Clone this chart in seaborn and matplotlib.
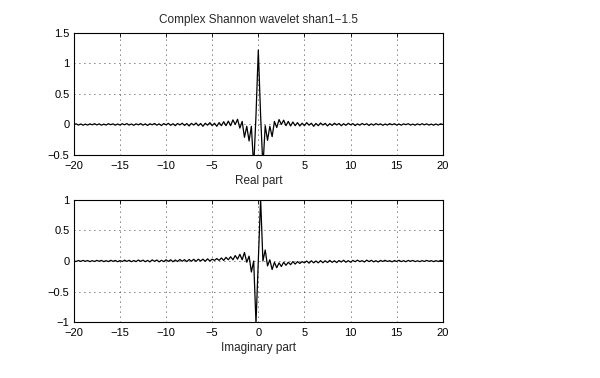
import numpy as np
import seaborn as sns
import matplotlib.pyplot as plt
from matplotlib.ticker import FuncFormatter


# sample grid, -20 .. 20 step 0.25
x = np.linspace(-20, 20, 161)

real_part = [
    0.00, 0.01, -0.01, 0.008, -0.012, 0.006, -0.01, 0.01, -0.006, 0.012,
    -0.008, 0.01, -0.012, 0.006, -0.01, 0.012, -0.004, 0.01, -0.012, 0.008,
    -0.01, 0.012, -0.006, 0.014, -0.01, 0.008, -0.014, 0.01, -0.006, 0.014,
    -0.012, 0.01, -0.016, 0.012, -0.006, 0.016, -0.012, 0.01, -0.018, 0.014,
    -0.006, 0.018, -0.014, 0.012, -0.02, 0.016, -0.008, 0.02, -0.016, 0.014,
    -0.024, 0.018, -0.01, 0.024, -0.02, 0.016, -0.03, 0.02, -0.012, 0.03,
    -0.02, 0.02, -0.03, 0.03, -0.02, 0.045, -0.02, 0.055, -0.02, 0.075,
    0.0, 0.085, -0.06, 0.05, -0.21, -0.03, -0.27, -0.03, -0.7, 0.15,
    1.22,
    0.15, -0.7, -0.02, -0.26, -0.03, -0.2, 0.05, -0.05, 0.08, 0.0,
    0.07, -0.02, 0.05, -0.025, 0.04, -0.02, 0.03, -0.025, 0.02, -0.02,
    0.03, -0.012, 0.02, -0.03, 0.016, -0.02, 0.024, -0.01, 0.018, -0.024,
    0.014, -0.016, 0.02, -0.008, 0.016, -0.02, 0.012, -0.014, 0.018, -0.006,
    0.014, -0.018, 0.01, -0.012, 0.016, -0.006, 0.012, -0.016, 0.01, -0.012,
    0.014, -0.006, 0.01, -0.014, 0.008, -0.01, 0.014, -0.006, 0.012, -0.01,
    0.008, -0.012, 0.01, -0.004, 0.012, -0.01, 0.006, -0.012, 0.01, -0.008,
    0.012, -0.006, 0.01, -0.01, 0.006, -0.012, 0.008, -0.01, 0.01, 0.0,
]

imag_part = [
    0.0, -0.008, 0.008, -0.006, 0.01, -0.006, 0.008, -0.01, 0.006, -0.008,
    0.01, -0.004, 0.01, -0.01, 0.006, -0.01, 0.012, -0.006, 0.01, -0.012,
    0.008, -0.008, 0.014, -0.006, 0.012, -0.012, 0.008, -0.01, 0.016, -0.006,
    0.014, -0.012, 0.01, -0.014, 0.018, -0.006, 0.016, -0.014, 0.012, -0.01,
    0.02, -0.006, 0.02, -0.012, 0.016, -0.008, 0.025, -0.004, 0.022, -0.01,
    0.025, -0.004, 0.028, -0.006, 0.03, 0.0, 0.03, -0.004, 0.035, 0.0,
    0.03, 0.01, 0.04, 0.01, 0.05, 0.01, 0.06, 0.02, 0.07, 0.02,
    0.09, 0.03, 0.11, 0.02, 0.14, -0.02, 0.08, -0.18, 0.0, -1.02,
    0.0,
    1.02, 0.0, 0.18, -0.08, 0.02, -0.14, -0.02, -0.11, -0.03, -0.09,
    -0.02, -0.07, -0.02, -0.06, -0.01, -0.05, -0.01, -0.04, -0.01, -0.03,
    0.0, -0.035, 0.004, -0.03, 0.0, -0.03, 0.006, -0.028, 0.004, -0.025,
    0.01, -0.022, 0.004, -0.025, 0.008, -0.016, 0.012, -0.02, 0.006, -0.02,
    0.01, -0.012, 0.014, -0.01, 0.006, -0.016, 0.014, -0.01, 0.012, -0.014,
    0.006, -0.016, 0.01, -0.008, 0.012, -0.008, 0.006, -0.014, 0.008, -0.008,
    0.012, -0.01, 0.006, -0.012, 0.01, -0.006, 0.01, -0.01, 0.004, -0.01,
    0.006, -0.008, 0.01, -0.006, 0.006, -0.01, 0.006, -0.008, 0.008, 0.0,
]

x_ticks = [-20, -15, -10, -5, 0, 5, 10, 15, 20]
real_yticks = [-0.5, 0, 0.5, 1, 1.5]
imag_yticks = [-1, -0.5, 0, 0.5, 1]

sns.set_style("white")
plt.rcParams["font.family"] = ["Liberation Sans", "DejaVu Sans"]
plt.rcParams["font.size"] = 8

fig = plt.figure(figsize=(6, 3.78), dpi=100)
ax1 = fig.add_axes([0.123, 0.59, 0.615, 0.323])
ax2 = fig.add_axes([0.123, 0.148, 0.615, 0.323])

fmt = FuncFormatter(lambda v, p: ("%g" % v).replace("-", "\u2212"))

def style_axis(ax, yticks, ylim):
    ax.set_xlim(-20, 20)
    ax.set_ylim(*ylim)
    ax.set_xticks(x_ticks)
    ax.set_yticks(yticks)
    ax.xaxis.set_major_formatter(fmt)
    ax.yaxis.set_major_formatter(fmt)
    ax.tick_params(direction="in", top=True, right=True, length=3,
                   width=0.6, labelsize=8, colors="black")
    ax.tick_params(axis="x", pad=4)
    ax.tick_params(axis="y", pad=3)
    ax.grid(True, color="black", linestyle=(0, (1, 5)), linewidth=0.6)
    for s in ax.spines.values():
        s.set_color("black")
        s.set_linewidth(0.8)

sns.lineplot(x=x, y=real_part, ax=ax1, color="black", linewidth=0.9)
style_axis(ax1, real_yticks, (-0.5, 1.5))
ax1.set_xlabel("Real part", fontsize=8.5, labelpad=3)
ax1.set_title("Complex Shannon wavelet shan1\u22121.5", fontsize=8.5, pad=7)

sns.lineplot(x=x, y=imag_part, ax=ax2, color="black", linewidth=0.9)
style_axis(ax2, imag_yticks, (-1, 1))
ax2.set_xlabel("Imaginary part", fontsize=8.5, labelpad=3)

fig.savefig("out.png", dpi=100, facecolor="white")
